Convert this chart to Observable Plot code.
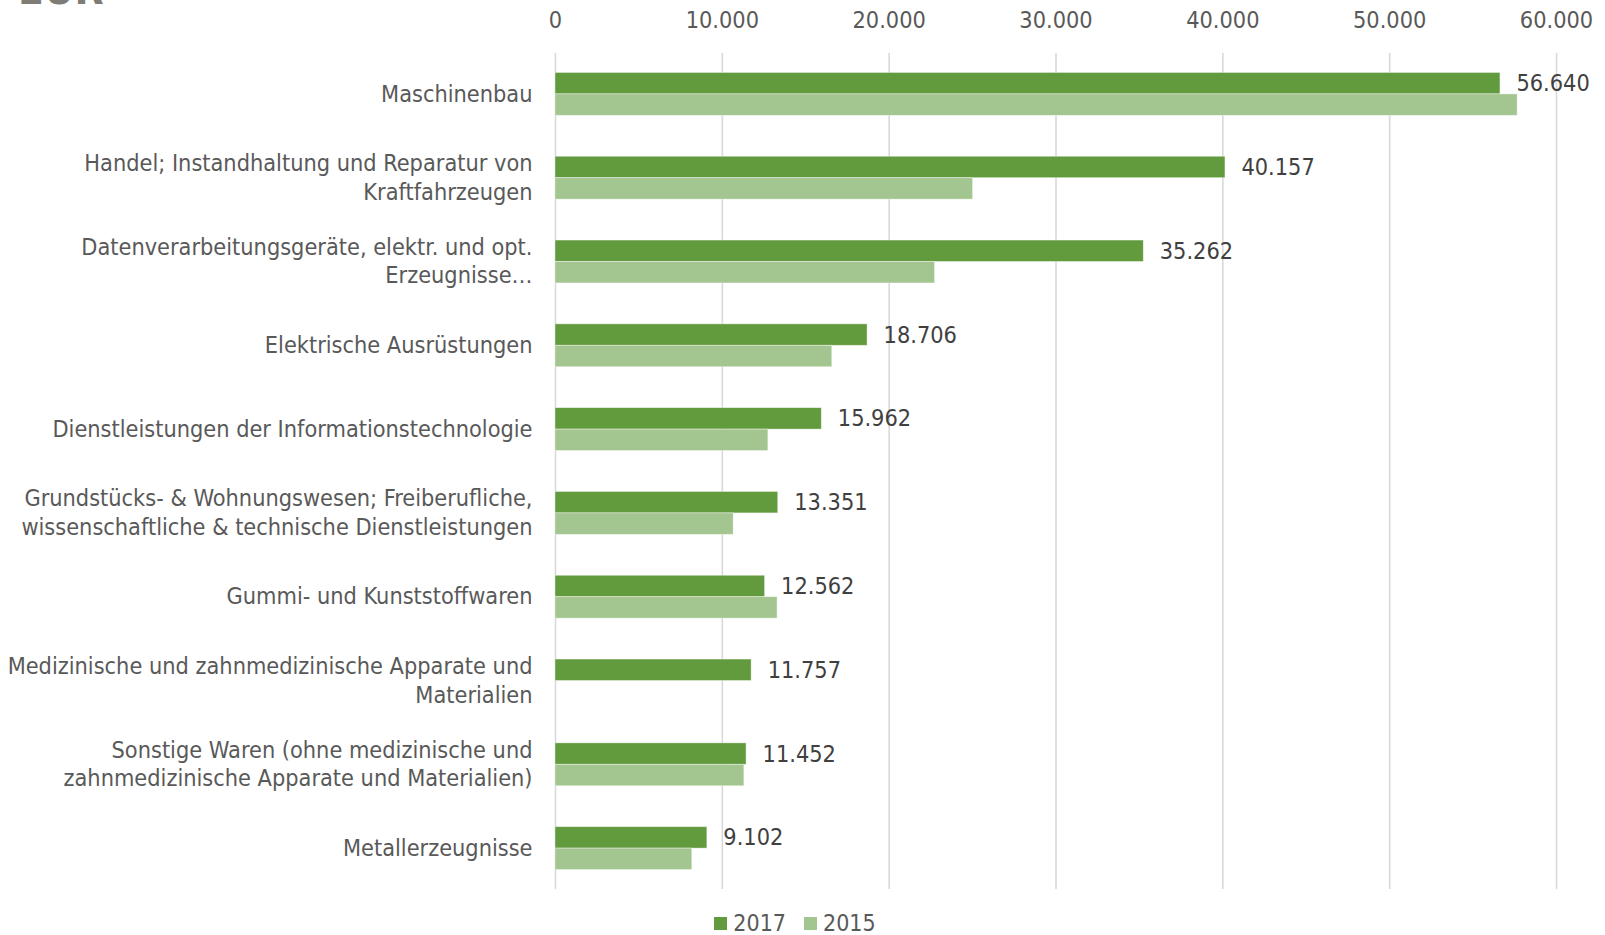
<!DOCTYPE html>
<html>
<head>
<meta charset="utf-8">
<script src="https://cdn.jsdelivr.net/npm/d3@7"></script>
<script src="https://cdn.jsdelivr.net/npm/@observablehq/plot@0.6"></script>
<style>
  html, body { margin: 0; padding: 0; background: #ffffff; }
  #wrap { position: relative; width: 1605px; height: 935px; overflow: hidden;
          font-family: "DejaVu Sans Condensed", "Liberation Sans Narrow", "DejaVu Sans", sans-serif; }
  #unit { position: absolute; left: 18px; top: -31px; font-size: 42px; line-height: 42px;
          font-weight: bold; color: #7f7c77; white-space: nowrap; }
  #legend { position: absolute; top: 911px; left: 0; width: 1590px; display: flex;
            justify-content: center; gap: 18px; font-size: 23px; color: #595959; line-height: 24px; }
  #legend .item { display: flex; align-items: center; gap: 6px; }
  #legend .sw { width: 13px; height: 13px; display: inline-block; }
  #chart { position: absolute; left: 0; top: 0; }
</style>
</head>
<body>
<div id="wrap">
  <div id="chart"></div>
  <div id="unit">EUR</div>
  <div id="legend"></div>
</div>
<script>
const categories = [
  "Maschinenbau",
  "Handel; Instandhaltung und Reparatur von\nKraftfahrzeugen",
  "Datenverarbeitungsgeräte, elektr. und opt.\nErzeugnisse…",
  "Elektrische Ausrüstungen",
  "Dienstleistungen der Informationstechnologie",
  "Grundstücks- & Wohnungswesen; Freiberufliche,\nwissenschaftliche & technische Dienstleistungen",
  "Gummi- und Kunststoffwaren",
  "Medizinische und zahnmedizinische Apparate und\nMaterialien",
  "Sonstige Waren (ohne medizinische und\nzahnmedizinische Apparate und Materialien)",
  "Metallerzeugnisse"
];
const values2017 = [56640, 40157, 35262, 18706, 15962, 13351, 12562, 11757, 11452, 9102];
const values2015 = [57670, 25030, 22750, 16590, 12760, 10680, 13310, null, 11320, 8200];
const xTicks = [0, 10000, 20000, 30000, 40000, 50000, 60000];
const seriesNames = ["2017", "2015"];
const seriesColors = ["#629a3e", "#a3c590"];

const deFormat = d => d3.format(",")(d).replace(/,/g, ".");

const rows2017 = categories.map((c, i) => ({cat: c, value: values2017[i]}));
const rows2015 = categories.map((c, i) => ({cat: c, value: values2015[i]})).filter(d => d.value != null);

const half = 21.45;
const fontSize = 23.3;

const chart = Plot.plot({
  width: 1605,
  height: 935,
  marginLeft: 555,
  marginRight: 49,
  marginTop: 53,
  marginBottom: 46,
  style: {fontFamily: '"DejaVu Sans Condensed", "Liberation Sans Narrow", "DejaVu Sans", sans-serif', background: "#ffffff"},
  x: {domain: [0, 60000]},
  y: {domain: categories, paddingInner: 0.488, paddingOuter: 0.232, round: false},
  marks: [
    Plot.gridX(xTicks, {stroke: "#d9d9d9", strokeOpacity: 1, strokeWidth: 1.6}),
    Plot.barX(rows2017, {x: "value", y: "cat", fill: seriesColors[0], insetBottom: half, stroke: "#ffffff", strokeWidth: 0.8, strokeOpacity: 0.5}),
    Plot.barX(rows2015, {x: "value", y: "cat", fill: seriesColors[1], insetTop: half, stroke: "#ffffff", strokeWidth: 0.8, strokeOpacity: 0.5}),
    Plot.text(rows2017, {x: "value", y: "cat", text: d => deFormat(d.value), dx: 16, dy: -half / 2, textAnchor: "start", fill: "#404040", fontSize: fontSize}),
    Plot.axisX(xTicks, {anchor: "top", tickSize: 0, tickPadding: 26, tickFormat: deFormat, fontSize: fontSize, color: "#595959", label: null}),
    Plot.axisY({anchor: "left", tickSize: 0, tickPadding: 23, dy: -2, fontSize: fontSize, color: "#595959", label: null, lineHeight: 1.23})
  ]
});
document.getElementById("chart").appendChild(chart);

const legend = document.getElementById("legend");
seriesNames.forEach((name, i) => {
  const item = document.createElement("div");
  item.className = "item";
  const sw = document.createElement("span");
  sw.className = "sw";
  sw.style.background = seriesColors[i];
  const t = document.createElement("span");
  t.textContent = name;
  item.appendChild(sw);
  item.appendChild(t);
  legend.appendChild(item);
});
</script>
</body>
</html>
